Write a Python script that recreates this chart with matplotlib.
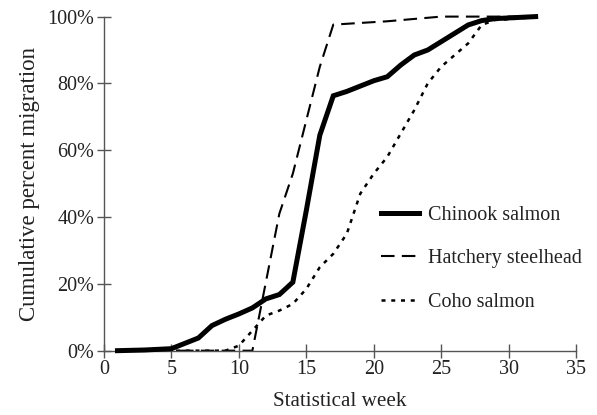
import matplotlib
matplotlib.use('Agg')
import matplotlib.pyplot as plt
from matplotlib.ticker import FuncFormatter

# data (statistical week vs cumulative %)
chinook_week = [1, 2, 3, 4, 5, 6, 7, 8, 9, 10, 11, 12, 13, 14, 15, 16, 17, 18, 19, 20,
                21, 22, 23, 24, 25, 26, 27, 28, 29, 30, 31, 32]
chinook_pct = [0, 0.1, 0.2, 0.4, 0.6, 2.2, 3.8, 7.5, 9.4, 11, 12.8, 15.5, 16.8, 20.5,
               42, 64.5, 76.3, 77.6, 79.2, 80.8, 82, 85.5, 88.5, 90, 92.5, 95, 97.5,
               98.8, 99.4, 99.6, 99.8, 100]

steel_week = [1, 5, 11, 13, 14, 15, 16, 17, 19, 21, 23, 25, 28, 32]
steel_pct = [0, 0, 0, 41, 53, 69, 85, 97.6, 98.1, 98.6, 99.3, 100, 100, 100]

coho_week = [1, 5, 9, 10, 11, 12, 13, 14, 15, 16, 17, 18, 19, 20, 21, 22, 23, 24,
             25, 26, 27, 28, 29, 30, 31, 32]
coho_pct = [0, 0, 0, 1.5, 6, 10.5, 12, 14, 18.5, 25, 29, 35, 47, 53, 58, 65, 72, 80,
            85, 88.5, 92, 97.5, 99, 99.2, 99.5, 100]

labels = ['Chinook salmon', 'Hatchery steelhead', 'Coho salmon']

plt.rcParams['font.family'] = ['Liberation Serif', 'DejaVu Serif']

fig = plt.figure(figsize=(5.97, 4.15), dpi=100)
ax = fig.add_axes([0.1742, 0.155, 0.7908, 0.805])

ax.plot(chinook_week, chinook_pct, color='black', lw=3.6, solid_joinstyle='miter',
        label=labels[0], clip_on=False, zorder=3)
ax.plot(steel_week, steel_pct, color='black', lw=1.5, dashes=(6.5, 3.5),
        label=labels[1], clip_on=False, zorder=2)
ax.plot(coho_week, coho_pct, color='black', lw=1.8, dashes=(1.6, 2.3),
        label=labels[2], clip_on=False, zorder=2)

ax.set_xlim(0, 35)
ax.set_ylim(0, 100)
ax.set_xticks(range(0, 36, 5))
ax.set_yticks(range(0, 101, 20))
ax.yaxis.set_major_formatter(FuncFormatter(lambda v, p: f'{int(v)}%'))

for s in ['top', 'right']:
    ax.spines[s].set_visible(False)
for s in ['left', 'bottom']:
    ax.spines[s].set_color('#555555')
    ax.spines[s].set_linewidth(1.0)

ax.tick_params(direction='inout', length=10, width=1.0, color='#555555',
               labelsize=14.5, labelcolor='#222222')
ax.tick_params(axis='x', pad=2)
ax.tick_params(axis='y', pad=2)

ax.set_xlabel('Statistical week', fontsize=15.2, color='#222222', labelpad=9)
ax.set_ylabel('Cumulative percent migration', fontsize=16.5, color='#222222', labelpad=5)

ax.legend(loc='upper left', bbox_to_anchor=(0.587, 0.433), frameon=False,
          fontsize=14.5, handlelength=1.9, handletextpad=0.45, labelspacing=1.2,
          borderpad=0, borderaxespad=0, labelcolor='#222222')

fig.savefig('out.png', dpi=100)
